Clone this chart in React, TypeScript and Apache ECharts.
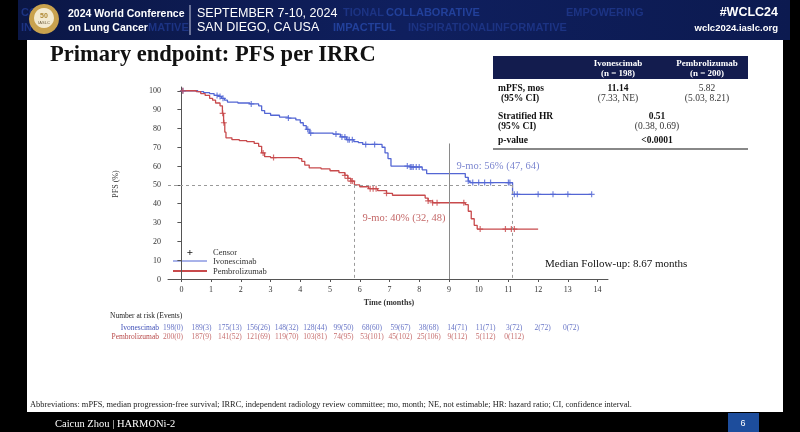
import React, { useEffect, useRef } from "react";
import * as echarts from "echarts";

// ---------- data ----------
const monthTicks = [0, 1, 2, 3, 4, 5, 6, 7, 8, 9, 10, 11, 12, 13, 14];
const pfsTicks = [0, 10, 20, 30, 40, 50, 60, 70, 80, 90, 100];

const ivoTimes = [0, 0.55, 0.75, 0.95, 1.1, 1.25, 1.35, 1.45, 1.55, 1.9, 2.3, 2.6, 2.7, 2.8, 3.0, 3.3, 3.6, 3.85, 4.0, 4.1, 4.2, 4.3, 5.1, 5.35, 5.55, 5.8, 5.95, 6.1, 6.75, 6.85, 6.95, 7.05, 7.7, 8.1, 8.25, 9.55, 9.65, 9.7, 11.14, 13.8];
const ivoSurv = [100, 99.5, 99, 98.5, 97.5, 97, 96, 95, 94, 93.5, 93, 92, 89.5, 88, 87, 86, 85.5, 84.5, 83, 81.5, 79.5, 77.5, 77, 75.5, 74, 73, 72.5, 71.5, 70, 67, 64, 60, 59.5, 58, 56, 54, 52, 51.2, 45, 45];

const pemTimes = [0, 0.5, 0.65, 0.8, 0.95, 1.05, 1.15, 1.3, 1.38, 1.42, 1.46, 1.5, 1.7, 1.95, 2.2, 2.45, 2.6, 2.7, 2.8, 3.0, 3.95, 4.05, 4.15, 4.3, 4.7, 5.0, 5.3, 5.5, 5.6, 5.7, 5.82, 6.0, 6.3, 6.6, 6.9, 7.1, 8.2, 8.3, 8.45, 9.55, 9.65, 9.75, 9.85, 9.95, 12.0];
const pemSurv = [100, 99.5, 98.5, 97.5, 96, 95, 93.5, 92, 88, 83, 78, 75, 74, 73.5, 73, 72, 70.5, 67, 65, 64.5, 64, 62.5, 60.5, 59, 58.5, 57.5, 56.5, 55, 53.5, 52, 50, 49, 48, 47, 45.5, 44.5, 43, 41.5, 40.5, 39.5, 36, 32, 28.5, 26.5, 26.5];

const ivoCensor = [0.05, 1.2, 1.3, 1.4, 2.35, 3.6, 4.25, 4.35, 5.2, 5.4, 5.5, 5.6, 5.65, 5.75, 6.2, 6.5, 7.6, 7.7, 7.75, 7.8, 7.9, 8.0, 9.65, 9.8, 10.0, 10.2, 10.4, 11.0, 11.05, 11.2, 11.3, 12.0, 12.5, 13.0, 13.8];
const pemCensor = [0.05, 1.39, 1.43, 2.75, 3.1, 5.5, 5.6, 5.7, 5.75, 6.35, 6.45, 6.55, 6.9, 8.3, 8.45, 8.6, 9.5, 10.05, 10.9, 11.1, 11.2];

const ivoRisk = ["198(0)", "189(3)", "175(13)", "156(26)", "148(32)", "128(44)", "99(50)", "68(60)", "59(67)", "38(68)", "14(71)", "11(71)", "3(72)", "2(72)", "0(72)"];
const pemRisk = ["200(0)", "187(9)", "141(52)", "121(69)", "119(70)", "103(81)", "74(95)", "53(101)", "45(102)", "25(106)", "9(112)", "5(112)", "0(112)"];

const medianIvo = 11.14;
const medianPem = 5.82;
const landmark = 9;
const halfLevel = 50;

// ---------- styles ----------
const BLUE = "#5366d4";
const RED = "#c84a4c";
const SERIF = "'Liberation Serif', 'DejaVu Serif', serif";
const SANS = "'Liberation Sans', Arial, sans-serif";
const X_MIN = -0.45;
const X_MAX = 14.35;

function stepValue(times: number[], vals: number[], t: number) {
  let v = vals[0];
  for (let i = 0; i < times.length; i++) {
    if (times[i] <= t) v = vals[i];
  }
  return v;
}

const PLUS = "path://M4,0H6V4H10V6H6V10H4V6H0V4H4Z";

export default function App() {
  const ref = useRef<HTMLDivElement>(null);
  useEffect(() => {
    if (!ref.current) return;
    const chart = echarts.init(ref.current, undefined, { renderer: "svg" });

    const t = (x: number, y: number, text: string, style: any = {}) => ({
      type: "text",
      x,
      y,
      style: { text, fontFamily: SERIF, fontSize: 8, fill: "#222", textVerticalAlign: "middle", ...style },
    });

    const faint = (x: number, y: number, text: string, fill = "#1c3383") =>
      t(x, y, text, { fontFamily: SANS, fontWeight: "bold", fontSize: 11, fill });

    const graphic: any[] = [
      { type: "rect", shape: { x: 0, y: 0, width: 800, height: 432 }, style: { fill: "#000" } },
      {
        type: "rect",
        shape: { x: 18, y: 0, width: 772, height: 40 },
        style: {
          fill: new echarts.graphic.LinearGradient(0, 0, 1, 0, [
            { offset: 0, color: "#0b1746" },
            { offset: 0.5, color: "#0f1f5e" },
            { offset: 1, color: "#0c1a50" },
          ]),
        },
      },
      { type: "rect", shape: { x: 27, y: 40, width: 756, height: 372 }, style: { fill: "#fff" } },
      // faint header words
      faint(21, 12, "CO"),
      faint(21, 27, "IN"),
      faint(343, 12, "TIONAL"),
      faint(386, 12, "COLLABORATIVE", "#22409a"),
      faint(566, 12, "EMPOWERING"),
      faint(148, 27, "MATIVE"),
      faint(333, 27, "IMPACTFUL", "#22409a"),
      faint(408, 27, "INSPIRATIONAL"),
      faint(492, 27, "INFORMATIVE"),
      // logo
      { type: "circle", shape: { cx: 44, cy: 19, r: 15 }, style: { fill: "#c9a24e" } },
      { type: "circle", shape: { cx: 44, cy: 18, r: 10 }, style: { fill: "#f3ead0" } },
      t(44, 15, "50", { fontFamily: SANS, fontWeight: "bold", fontSize: 7, fill: "#b08a35", textAlign: "center" }),
      t(44, 22, "IASLC", { fontFamily: SANS, fontSize: 4, fill: "#6a5a3a", textAlign: "center" }),
      // header text
      t(68, 13, "2024 World Conference", { fontFamily: SANS, fontWeight: "bold", fontSize: 10.5, fill: "#fff" }),
      t(68, 27, "on Lung Cancer", { fontFamily: SANS, fontWeight: "bold", fontSize: 10.5, fill: "#fff" }),
      { type: "line", shape: { x1: 190, y1: 5, x2: 190, y2: 35 }, style: { stroke: "#c8cbe0", lineWidth: 1 } },
      t(197, 13, "SEPTEMBER 7-10, 2024", { fontFamily: SANS, fontSize: 12.5, fill: "#fff" }),
      t(197, 27, "SAN DIEGO, CA USA", { fontFamily: SANS, fontSize: 12.5, fill: "#fff" }),
      t(778, 12, "#WCLC24", { fontFamily: SANS, fontWeight: "bold", fontSize: 12.5, fill: "#fff", textAlign: "right" }),
      t(778, 27, "wclc2024.iaslc.org", { fontFamily: SANS, fontWeight: "bold", fontSize: 9.5, fill: "#fff", textAlign: "right" }),
      // title
      t(50, 53, "Primary endpoint: PFS per IRRC", { fontSize: 22.5, fontWeight: "bold", fill: "#111" }),
      // table
      { type: "rect", shape: { x: 493, y: 56, width: 255, height: 23 }, style: { fill: "#131c4e" } },
      t(618, 63, "Ivonescimab", { fontSize: 9, fontWeight: "bold", fill: "#fff", textAlign: "center" }),
      t(618, 73, "(n = 198)", { fontSize: 9, fontWeight: "bold", fill: "#fff", textAlign: "center" }),
      t(707, 63, "Pembrolizumab", { fontSize: 9, fontWeight: "bold", fill: "#fff", textAlign: "center" }),
      t(707, 73, "(n = 200)", { fontSize: 9, fontWeight: "bold", fill: "#fff", textAlign: "center" }),
      t(498, 87.5, "mPFS, mos", { fontSize: 9.5, fontWeight: "bold", fill: "#111" }),
      t(501, 97.5, "(95% CI)", { fontSize: 9.5, fontWeight: "bold", fill: "#111" }),
      t(618, 87.5, "11.14", { fontSize: 9.5, fontWeight: "bold", fill: "#111", textAlign: "center" }),
      t(618, 97.5, "(7.33, NE)", { fontSize: 9.5, fill: "#333", textAlign: "center" }),
      t(707, 87.5, "5.82", { fontSize: 9.5, fill: "#333", textAlign: "center" }),
      t(707, 97.5, "(5.03, 8.21)", { fontSize: 9.5, fill: "#333", textAlign: "center" }),
      t(498, 116, "Stratified HR", { fontSize: 9.5, fontWeight: "bold", fill: "#111" }),
      t(498, 126, "(95% CI)", { fontSize: 9.5, fontWeight: "bold", fill: "#111" }),
      t(657, 116, "0.51", { fontSize: 9.5, fontWeight: "bold", fill: "#111", textAlign: "center" }),
      t(657, 126, "(0.38, 0.69)", { fontSize: 9.5, fill: "#333", textAlign: "center" }),
      t(498, 139.5, "p-value", { fontSize: 9.5, fontWeight: "bold", fill: "#111" }),
      t(657, 139.5, "<0.0001", { fontSize: 9.5, fontWeight: "bold", fill: "#111", textAlign: "center" }),
      { type: "line", shape: { x1: 493, y1: 149, x2: 748, y2: 149 }, style: { stroke: "#888", lineWidth: 2 } },
      // axis name
      {
        type: "text",
        x: 115,
        y: 184,
        rotation: Math.PI / 2,
        style: { text: "PFS (%)", fontFamily: SERIF, fontSize: 8, fill: "#333", textAlign: "center", textVerticalAlign: "middle" },
      },
      t(389, 302, "Time (months)", { fontSize: 8, fontWeight: "bold", fill: "#333", textAlign: "center" }),
      // annotations
      t(498, 165, "9-mo: 56% (47, 64)", { fontSize: 10.5, fill: "#7d87d0", textAlign: "center" }),
      t(404, 217, "9-mo: 40% (32, 48)", { fontSize: 10.5, fill: "#c46868", textAlign: "center" }),
      // legend
      t(190, 252, "+", { fontSize: 11, fontWeight: "bold", fill: "#111", textAlign: "center" }),
      t(213, 252, "Censor", { fontSize: 8.5, fill: "#333" }),
      { type: "line", shape: { x1: 173, y1: 261, x2: 207, y2: 261 }, style: { stroke: BLUE, lineWidth: 1 } },
      t(213, 261, "Ivonescimab", { fontSize: 8.5, fill: "#333" }),
      { type: "line", shape: { x1: 173, y1: 271, x2: 207, y2: 271 }, style: { stroke: RED, lineWidth: 2 } },
      t(213, 271, "Pembrolizumab", { fontSize: 8.5, fill: "#333" }),
      t(545, 263, "Median Follow-up: 8.67 months", { fontSize: 11, fill: "#111" }),
      // risk table
      t(110, 315, "Number at risk (Events)", { fontSize: 7.5, fill: "#222" }),
      t(159, 327, "Ivonescimab", { fontSize: 7.5, fill: "#4151b8", textAlign: "right" }),
      t(159, 336, "Pembrolizumab", { fontSize: 7.5, fill: "#b84848", textAlign: "right" }),
      // footer
      t(30, 404, "Abbreviations: mPFS, median progression-free survival; IRRC, independent radiology review committee; mo, month; NE, not estimable; HR: hazard ratio; CI, confidence interval.", { fontSize: 8.4, fill: "#222" }),
      t(55, 423, "Caicun Zhou | HARMONi-2", { fontSize: 10.5, fill: "#fff" }),
      { type: "rect", shape: { x: 728, y: 413, width: 31, height: 19 }, style: { fill: "#1d4d9c" } },
      t(743, 423, "6", { fontFamily: SANS, fontSize: 9, fill: "#fff", textAlign: "center" }),
    ];

    const ivoLine = ivoTimes.map((x, i) => [x, ivoSurv[i]]);
    const pemLine = pemTimes.map((x, i) => [x, pemSurv[i]]);
    const ivoC = ivoCensor.map((x) => [x, stepValue(ivoTimes, ivoSurv, x)]);
    const pemC = pemCensor.map((x) => [x, stepValue(pemTimes, pemSurv, x)]);
    const ivoRiskData = ivoRisk.map((s, i) => [monthTicks[i], 0, s]);
    const pemRiskData = pemRisk.map((s, i) => [monthTicks[i], 1, s]);

    const axisFont = { fontFamily: SERIF, fontSize: 8, color: "#333" };

    chart.setOption({
      animation: false,
      graphic: { elements: graphic },
      grid: [
        { left: 168, top: 87, width: 440, height: 192 },
        { left: 173, top: 327, width: 398, height: 9 },
      ],
      xAxis: [
        {
          type: "value",
          gridIndex: 0,
          min: X_MIN,
          max: X_MAX,
          splitLine: { show: false },
          axisLine: { lineStyle: { color: "#555", width: 1 } },
          axisTick: { customValues: monthTicks, length: 3, lineStyle: { color: "#555" } },
          axisLabel: { customValues: monthTicks, margin: 6, ...axisFont },
        },
        { type: "value", gridIndex: 1, min: 0, max: 14, show: false },
      ],
      yAxis: [
        {
          type: "value",
          gridIndex: 0,
          min: 0,
          max: 102,
          splitLine: { show: false },
          axisLine: { show: true, lineStyle: { color: "#555", width: 1 } },
          axisTick: { show: true, customValues: pfsTicks, length: 4, lineStyle: { color: "#555" } },
          axisLabel: { customValues: pfsTicks, margin: 7, ...axisFont },
        },
        { type: "value", gridIndex: 1, min: 0, max: 1, inverse: true, show: false },
      ],
      series: [
        {
          type: "line",
          name: "ref",
          data: [],
          silent: true,
          markLine: {
            symbol: "none",
            silent: true,
            label: { show: false },
            lineStyle: { color: "#9a9a9a", type: [3, 3], width: 1 },
            data: [
              [{ coord: [X_MIN, halfLevel] }, { coord: [medianIvo, halfLevel] }],
              [{ coord: [medianPem, halfLevel] }, { coord: [medianPem, 0] }],
              [{ coord: [medianIvo, halfLevel] }, { coord: [medianIvo, 0] }],
              [
                { coord: [landmark, 72], lineStyle: { type: "solid", color: "#8a8a8a" } },
                { coord: [landmark, 0] },
              ],
            ],
          },
        },
        {
          type: "line",
          name: "Ivonescimab",
          data: ivoLine,
          step: "end",
          showSymbol: false,
          lineStyle: { color: BLUE, width: 1.3 },
          z: 3,
        },
        {
          type: "line",
          name: "Pembrolizumab",
          data: pemLine,
          step: "end",
          showSymbol: false,
          lineStyle: { color: RED, width: 1.3 },
          z: 3,
        },
        { type: "scatter", data: ivoC, symbol: PLUS, symbolSize: 6, itemStyle: { color: BLUE }, z: 4 },
        { type: "scatter", data: pemC, symbol: PLUS, symbolSize: 6, itemStyle: { color: RED }, z: 4 },
        {
          type: "scatter",
          xAxisIndex: 1,
          yAxisIndex: 1,
          data: ivoRiskData,
          symbolSize: 1,
          itemStyle: { color: "rgba(0,0,0,0)" },
          label: { show: true, position: "inside", formatter: (p: any) => p.value[2], fontFamily: SERIF, fontSize: 7.5, color: "#4151b8" },
        },
        {
          type: "scatter",
          xAxisIndex: 1,
          yAxisIndex: 1,
          data: pemRiskData,
          symbolSize: 1,
          itemStyle: { color: "rgba(0,0,0,0)" },
          label: { show: true, position: "inside", formatter: (p: any) => p.value[2], fontFamily: SERIF, fontSize: 7.5, color: "#b84848" },
        },
      ],
    });

    return () => chart.dispose();
  }, []);

  return <div ref={ref} style={{ position: "fixed", left: 0, top: 0, width: 800, height: 432 }} />;
}
